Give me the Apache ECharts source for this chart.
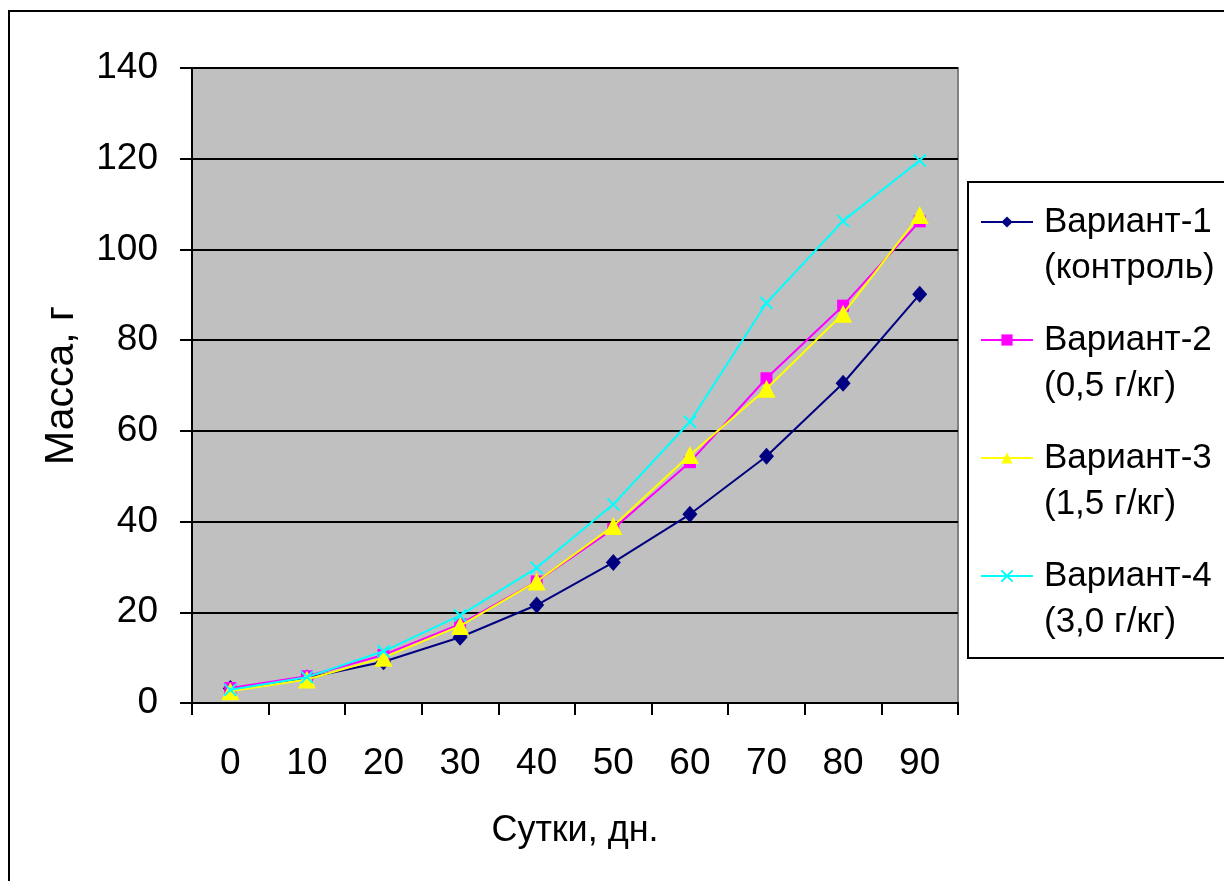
<!DOCTYPE html>
<html>
<head>
<meta charset="utf-8">
<script src="https://cdn.jsdelivr.net/npm/echarts@6/dist/echarts.min.js"></script>
<style>
html,body{margin:0;padding:0;background:#fff;}
#c{width:1224px;height:881px;}
</style>
</head>
<body>
<div id="c"></div>
<script>
const categories = ['0','10','20','30','40','50','60','70','80','90'];
const seriesNames = ['Вариант-1\n(контроль)','Вариант-2\n(0,5 г/кг)','Вариант-3\n(1,5 г/кг)','Вариант-4\n(3,0 г/кг)'];
const variant1 = [3.2, 5.5, 9.1, 14.5, 21.6, 31.0, 41.6, 54.4, 70.5, 90.1];
const variant2 = [3.3, 5.9, 10.6, 17.4, 26.8, 38.4, 53.1, 71.6, 87.6, 106.2];
const variant3 = [2.6, 5.2, 10.0, 17.0, 26.8, 39.0, 54.7, 69.3, 85.8, 107.6];
const variant4 = [2.9, 5.7, 11.4, 19.3, 29.8, 43.8, 62.0, 88.2, 106.3, 119.6];
const yTicks = {min: 0, max: 140, interval: 20};
const xName = 'Сутки, дн.';
const yName = 'Масса, г';

const FONT = "'Liberation Sans', Arial, sans-serif";
const colors = ['#000080', '#FF00FF', '#FFFF00', '#00FFFF'];
const symbols = ['diamond', 'rect', 'triangle', 'path://M0,0L10,10M10,0L0,10'];
const sizes = [[15,17], 12, 18, 12];
const dataAll = [variant1, variant2, variant3, variant4];

const chart = echarts.init(document.getElementById('c'), null, {renderer: 'canvas'});
const series = dataAll.map((d, i) => ({
  name: seriesNames[i],
  type: 'line',
  data: d,
  symbol: symbols[i],
  symbolSize: sizes[i],
  showAllSymbol: true,
  lineStyle: {color: colors[i], width: 2},
  itemStyle: i === 3 ? {color: colors[i], borderColor: colors[i], borderWidth: 2} : {color: colors[i], borderWidth: 0},
  emphasis: {disabled: true},
  animation: false,
  z: 3 + i
}));

chart.setOption({
  animation: false,
  backgroundColor: '#ffffff',
  textStyle: {fontFamily: FONT},
  graphic: [
    {type: 'rect', shape: {x: 9, y: 11, width: 1240, height: 900}, style: {fill: 'none', stroke: '#000', lineWidth: 2}, z: -10},
    {type: 'rect', shape: {x: 968, y: 182, width: 280, height: 476}, style: {fill: '#fff', stroke: '#000', lineWidth: 2}, z: -5}
  ],
  grid: {left: 192, right: 266, top: 68, bottom: 178, show: true, backgroundColor: '#C0C0C0', borderColor: '#808080', borderWidth: 2},
  legend: {
    orient: 'vertical',
    left: 975,
    top: 148,
    itemWidth: 52,
    itemHeight: 14,
    itemGap: -20,
    data: seriesNames,
    formatter: function (name) { return '\n' + name; },
    textStyle: {fontFamily: FONT, fontSize: 35, color: '#000', lineHeight: 46, padding: [0, 0, 0, 6]},
    selectedMode: false
  },
  xAxis: {
    type: 'category',
    data: categories,
    boundaryGap: true,
    name: xName,
    nameLocation: 'middle',
    nameGap: 110,
    nameTextStyle: {fontFamily: FONT, fontSize: 36, color: '#000'},
    axisLine: {lineStyle: {color: '#000', width: 2}},
    axisTick: {show: true, length: 12, lineStyle: {color: '#000', width: 2}},
    axisLabel: {fontFamily: FONT, fontSize: 37, color: '#000', margin: 42},
    splitLine: {show: false}
  },
  yAxis: {
    type: 'value',
    min: yTicks.min, max: yTicks.max, interval: yTicks.interval,
    name: yName,
    nameLocation: 'middle',
    nameGap: 110,
    nameTextStyle: {fontFamily: FONT, fontSize: 41, color: '#000'},
    axisLine: {show: true, lineStyle: {color: '#000', width: 2}},
    axisTick: {show: true, length: 12, lineStyle: {color: '#000', width: 2}},
    axisLabel: {fontFamily: FONT, fontSize: 37, color: '#000', margin: 34},
    splitLine: {show: true, lineStyle: {color: '#000', width: 2}}
  },
  series: series
});
</script>
</body>
</html>
